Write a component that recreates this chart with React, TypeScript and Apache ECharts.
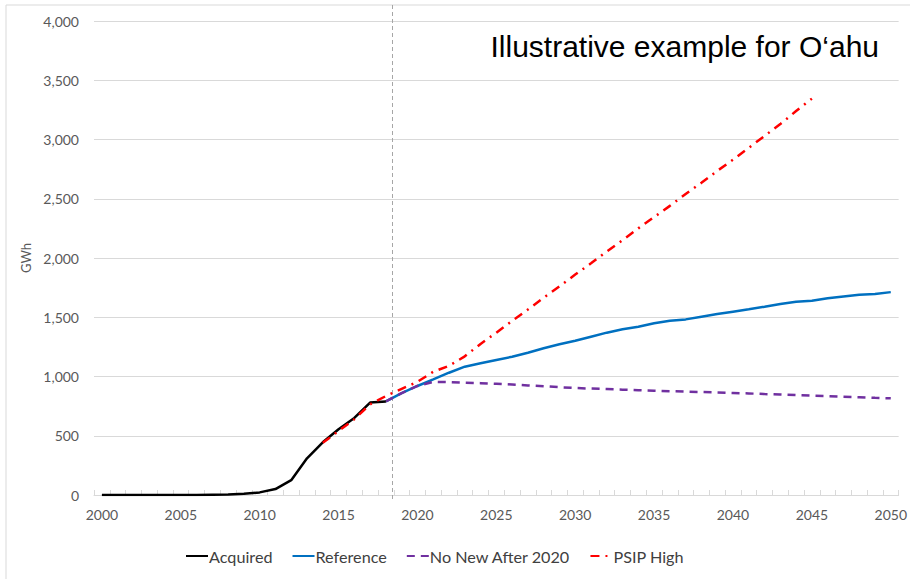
import React, { useEffect, useRef } from "react";
import * as echarts from "echarts";

const years: string[] = [];
for (let y = 2000; y <= 2050; y++) years.push(String(y));

// Acquired 2000-2018
const acquired = [0, 0, 0, 0, 0, 0, 0, 2, 4, 10, 22, 50, 125, 310, 445, 555, 650, 780, 790];
// Reference 2018-2050
const reference = [790, 860, 920, 975, 1032, 1083, 1111, 1139, 1167, 1201, 1238, 1272, 1302, 1336, 1370, 1398, 1420, 1449, 1471, 1482, 1505, 1527, 1547, 1567, 1589, 1612, 1631, 1640, 1660, 1675, 1690, 1697, 1712];
// No New After 2020, 2018-2050
const noNew = [790, 860, 920, 955, 952, 948, 944, 938, 932, 925, 918, 910, 903, 898, 894, 889, 884, 880, 876, 872, 869, 865, 861, 857, 852, 848, 843, 838, 834, 829, 825, 820, 816];
// PSIP High 2014-2045
const psipHigh = [440, 540, 640, 765, 835, 895, 955, 1040, 1090, 1170, 1275, 1370, 1470, 1565, 1665, 1760, 1860, 1955, 2055, 2150, 2250, 2345, 2440, 2540, 2635, 2735, 2830, 2930, 3030, 3130, 3240, 3345];

const yTicks = { min: 0, max: 4000, interval: 500 };

function pad(arr: number[], startYear: number): (number | null)[] {
  return years.map((y) => {
    const i = Number(y) - startYear;
    return i >= 0 && i < arr.length ? arr[i] : null;
  });
}

export default function App() {
  const ref = useRef<HTMLDivElement>(null);
  useEffect(() => {
    if (!ref.current) return;
    const chart = echarts.init(ref.current, null, { renderer: "svg" });
    const font = "Lato, 'Noto Sans', sans-serif";
    chart.setOption({
      animation: false,
      backgroundColor: "#ffffff",
      grid: { left: 94, right: 11, top: 21, bottom: 84 },
      xAxis: {
        type: "category",
        data: years,
        boundaryGap: true,
        axisLine: { lineStyle: { color: "#d9d9d9", width: 1 } },
        axisTick: { show: true, inside: true, length: 5, interval: 0, lineStyle: { color: "#d9d9d9" } },
        axisLabel: { interval: 4, color: "#595959", fontSize: 14, fontFamily: font, margin: 12 },
        splitLine: { show: false },
      },
      yAxis: {
        type: "value",
        min: yTicks.min,
        max: yTicks.max,
        interval: yTicks.interval,
        name: "GWh",
        nameLocation: "middle",
        nameGap: 50,
        nameTextStyle: { color: "#595959", fontSize: 13, fontFamily: font },
        axisLine: { show: false },
        axisTick: { show: false },
        axisLabel: {
          color: "#595959",
          fontSize: 14,
          fontFamily: font,
          margin: 15,
          formatter: (v: number) => v.toLocaleString("en-US"),
        },
        splitLine: { lineStyle: { color: "#d9d9d9", width: 1 } },
      },
      legend: {
        bottom: 10,
        left: 180,
        itemWidth: 22,
        itemHeight: 10,
        itemGap: 19,
        itemStyle: { opacity: 0 },
        textStyle: { fontSize: 16.2, color: "#404040", fontFamily: font, padding: [0, 0, 0, -4] },
        data: ["Acquired", "Reference", "No New After 2020", "PSIP High"],
      },
      graphic: [
        {
          type: "rect",
          shape: { x: 6, y: 5, width: 920, height: 590 },
          style: { fill: "none", stroke: "#d9d9d9", lineWidth: 1 },
          silent: true,
          z: 0,
        },
        {
          type: "line",
          shape: { x1: 392.5, y1: 5, x2: 392.5, y2: 502 },
          style: { stroke: "#a6a6a6", lineWidth: 1, lineDash: [4, 3] },
          silent: true,
          z: 1,
        },
        {
          type: "text",
          right: 31,
          top: 31,
          style: {
            text: "Illustrative example for O\u2018ahu",
            fontSize: 30,
            fontFamily: "'Liberation Sans', Arial, sans-serif",
            fill: "#000000",
          },
          z: 10,
        },
      ],
      series: [
        {
          name: "Acquired",
          type: "line",
          data: pad(acquired, 2000),
          symbol: "none",
          lineStyle: { color: "#000000", width: 2.5 },
          itemStyle: { color: "#000000" },
          z: 5,
        },
        {
          name: "Reference",
          type: "line",
          data: pad(reference, 2018),
          symbol: "none",
          lineStyle: { color: "#0070C0", width: 2.5 },
          itemStyle: { color: "#0070C0" },
          z: 3,
        },
        {
          name: "No New After 2020",
          type: "line",
          data: pad(noNew, 2018),
          symbol: "none",
          lineStyle: { color: "#7030A0", width: 2.5, type: [8, 6] },
          itemStyle: { color: "#7030A0" },
          z: 4,
        },
        {
          name: "PSIP High",
          type: "line",
          data: pad(psipHigh, 2014),
          symbol: "none",
          lineStyle: { color: "#FF0000", width: 2.5, type: [9, 6, 2, 6] },
          itemStyle: { color: "#FF0000" },
          z: 6,
        },
      ],
    });
    return () => chart.dispose();
  }, []);
  return <div ref={ref} style={{ width: 910, height: 579, position: "absolute", left: 0, top: 0 }} />;
}
